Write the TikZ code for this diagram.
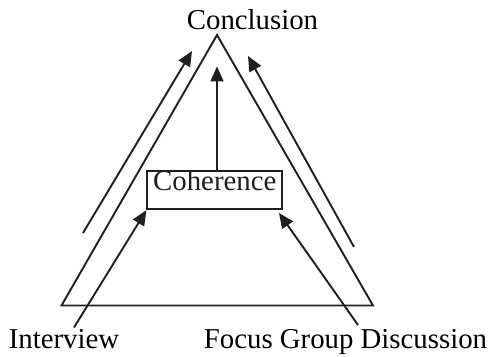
\documentclass[tikz,border=0pt]{standalone}
\usepackage{fontspec}
\setmainfont{Liberation Serif}
\usetikzlibrary{arrows.meta}
\tikzset{
  ln/.style={line width=1.9pt, black!88},
  arr/.style={ln, -{Triangle[length=15pt,width=13pt]}},
  lbl/.style={font=\fontsize{28.8}{30}\selectfont, inner sep=0pt, anchor=base},
}
\begin{document}
\begin{tikzpicture}[x=1pt,y=1pt]
\useasboundingbox (0,0) rectangle (492,356);
% triangle
\coordinate (apex) at (217,321);
\coordinate (bl) at (61.5,50.5);
\coordinate (br) at (373,50.5);
\draw[ln, line join=miter] (apex) -- (bl) -- (br) -- cycle;
% labels
\node[lbl] (concl) at (252.5,326) {Conclusion};
\node[lbl] (intv) at (64,8) {Interview};
\node[lbl] (fgd) at (345.5,8) {Focus Group Discussion};
% coherence box
\node[draw, ln, minimum width=135pt, inner xsep=0pt, inner ysep=0pt,
      text height=20pt, text depth=18.6pt,
      font=\fontsize{28.8}{30}\selectfont] (coh) at (214.8,166) {Coherence};
% arrow endpoints
\coordinate (vt) at (217,289.5);
\coordinate (ls) at (83,123);
\coordinate (lt) at (192,305);
\coordinate (rs) at (354,109);
\coordinate (rt) at (248,300);
\coordinate (is) at (74,28.5);
\coordinate (fs) at (358,31);
\coordinate (ft) at (279,143);
% arrows
\draw[arr] (coh.north -| vt) -- (vt);
\draw[arr] (ls) -- (lt);
\draw[arr] (rs) -- (rt);
\draw[arr] (is) -- (coh.south west);
\draw[arr] (fs) -- (ft);
\end{tikzpicture}
\end{document}
